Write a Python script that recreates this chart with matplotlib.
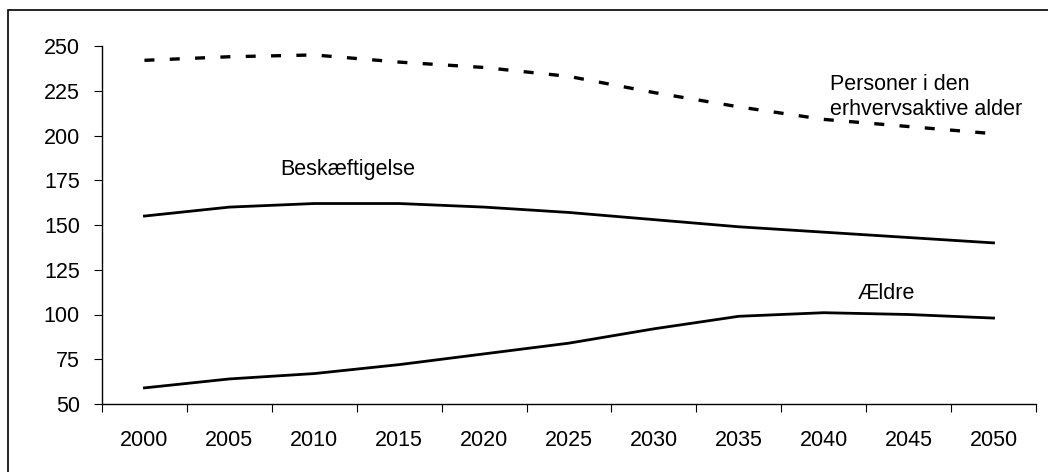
import matplotlib.pyplot as plt
from matplotlib.patches import Rectangle

plt.rcParams['font.family'] = ['Liberation Sans', 'DejaVu Sans']

years = ["2000", "2005", "2010", "2015", "2020", "2025",
         "2030", "2035", "2040", "2045", "2050"]
personer = [242, 244, 245, 241, 238, 233, 224, 216, 209, 205, 201]
beskaeftigelse = [155, 160, 162, 162, 160, 157, 153, 149, 146, 143, 140]
aeldre = [59, 64, 67, 72, 78, 84, 92, 99, 101, 100, 98]
y_ticks = [50, 75, 100, 125, 150, 175, 200, 225, 250]

fig = plt.figure(figsize=(10.48, 4.72), dpi=100)
ax = fig.add_axes([102 / 1048, 68 / 472, 934 / 1048, 358 / 472])

# outer frame (cut off at the right and bottom)
fig.patches.append(Rectangle((8 / 1048, -0.05), 1.2, 1.05 - 10 / 472,
                             transform=fig.transFigure, fill=False,
                             edgecolor="black", linewidth=1.2))

x = list(range(len(years)))

# Plot lines
ax.plot(x, personer, color="black", linewidth=2.4, dashes=(3.0, 4.6))
ax.plot(x, beskaeftigelse, color="black", linewidth=2.0)
ax.plot(x, aeldre, color="black", linewidth=2.0)

# Line labels
fs = 15.5
ax.text(8.07, 221.5, "Personer i den\nerhvervsaktive alder", fontsize=fs,
        ha="left", va="center", linespacing=1.2)
ax.text(1.6, 181, "Beskæftigelse", fontsize=fs, ha="left", va="center")
ax.text(8.4, 112, "Ældre", fontsize=fs, ha="left", va="center")

ax.set_xlim(-0.5, len(years) - 0.5)
ax.set_ylim(50, 250)
ax.set_yticks(y_ticks)
ax.set_yticklabels([str(v) for v in y_ticks], fontsize=fs)

# category axis: ticks at boundaries, labels at centres
ax.set_xticks([i - 0.5 for i in range(len(years) + 1)])
ax.set_xticklabels([])
ax.set_xticks(x, minor=True)
ax.set_xticklabels(years, minor=True, fontsize=fs)
ax.tick_params(axis="x", which="minor", length=0, pad=19)
ax.tick_params(axis="x", which="major", length=6, direction="out")
ax.tick_params(axis="y", length=6, direction="out", pad=10)

for side in ["top", "right"]:
    ax.spines[side].set_visible(False)
for side in ["left", "bottom"]:
    ax.spines[side].set_linewidth(1.0)

fig.savefig("out.png", dpi=100)
